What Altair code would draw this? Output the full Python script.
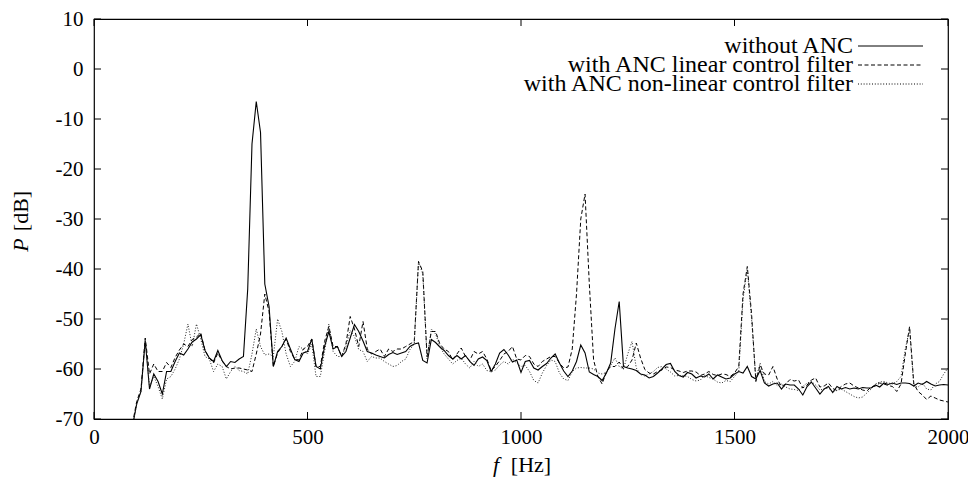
import altair as alt
import pandas as pd

# frequency grid [Hz]
FREQ = list(range(80, 2001, 10))

# without ANC (solid)
P_NO_ANC = [
    -76, -71.5,
    -67, -64.5, -54.3, -64, -61, -62.5, -65, -60.5, -60.5, -58.5,
    -56.8, -57.2, -56, -54.6, -54, -53.1, -56.3, -57.8, -58.5, -56.3,
    -58.3, -59.5, -58.5, -58.7, -58, -57.5, -44, -15, -6.5, -12.7,
    -43, -47.5, -59.5, -56.5, -55.5, -53.8, -56, -58.1, -58.5, -56.8,
    -56.5, -54, -59.5, -60, -55.5, -52.5, -56, -55.5, -57.5, -56.5,
    -53.8, -51.1, -52.5, -54.4, -56.5, -56.8, -57.2, -57.5, -57.8, -57.1,
    -56.7, -57.1, -56.8, -56.5, -55.5, -55, -54.8, -58.3, -58.8, -54.1,
    -54.7, -55.6, -56.3, -57.3, -58, -57.3, -58, -57.3, -58.5, -59.3,
    -58, -57.6, -58.3, -60.5, -59, -56.8, -56.1, -57.2, -58.6, -58.2,
    -60.7, -58.5, -58.3, -59.8, -60.2, -59.5, -58.9, -57.8, -57, -58.8,
    -60.4, -61.5, -60.4, -58.5, -55.2, -56.8, -60.6, -61.1, -61.5, -62.3,
    -60.8, -58.8, -52, -46.5, -59.5, -59.8, -60, -60.3, -61, -61.2,
    -61.8, -61.5, -60.8, -60, -59.1, -58.9, -60.5, -61.3, -61.6, -60.7,
    -61, -61.8, -61.4, -61.6, -61, -62, -61.2, -61.6, -62, -61.8,
    -61, -60.5, -60.8, -59.5, -61.5, -62, -60.3, -62.8, -63.4, -63,
    -62.8, -64, -63, -63.2, -63.2, -64, -65.2, -63.5, -62.6, -63.8,
    -65, -64, -63.5, -64.7, -63.5, -64, -63.7, -64, -63.8, -64,
    -63.7, -63.8, -63.8, -63.2, -63.6, -62.8, -63.1, -62.8, -63.1, -62.8,
    -62.8, -62.9, -63.4, -62.8, -63.1, -62.5, -63, -63.4, -63.2, -63.1,
    -63.2,
]

# with ANC, linear control filter (dashed)
P_LINEAR = [
    -76, -71,
    -66.5, -64, -53.8, -61, -59, -60.5, -60.5, -58.7, -59.7, -57.7,
    -56.2, -55, -55.5, -54.1, -53.6, -52.8, -56.3, -57.8, -58.8, -56.8,
    -58.4, -59.5, -60, -59.8, -59.8, -60, -60.2, -60.5, -57, -53,
    -45, -48.5, -59.5, -56.8, -55.5, -54, -56.5, -58, -58.2, -56,
    -55.5, -54, -59.5, -59.5, -54.5, -51.5, -55.5, -55.5, -57.5, -55,
    -49.5, -52, -55.5, -50.5, -56, -57, -56.5, -56, -57.5, -56,
    -56.5, -56, -56, -55.5, -55, -54.5, -38.5, -40.5, -57.5, -52.5,
    -52.5, -55, -56, -56.5, -58.2, -57, -55.8, -57.5, -58.3, -56.5,
    -57, -56.5, -58, -60.3, -59.5, -58.3, -57, -56.5, -55.5, -58,
    -58.2, -57.3, -57.5, -59, -59.5, -58.5, -58, -57.5, -57.5, -58.8,
    -59.8, -59.6, -56, -45, -30, -25, -43, -58.2, -61.5, -63,
    -60.5, -59.5, -59.5, -58.6, -60, -59.5, -58.2, -54.8, -57.8, -60.1,
    -60.8, -61, -60.5, -60.2, -59.6, -59.7, -60.2, -60.4, -60.7, -60.4,
    -60.4, -60.6, -61.3, -61, -60.5, -61.1, -61.3, -61, -61.1, -61.5,
    -60.8, -59.5, -45, -39.5, -49, -62.5, -59.2, -61, -61.2, -59.5,
    -62, -63.5, -63, -62.1, -62.4, -62.2, -63.8, -63.2, -62.2, -61.8,
    -63.6, -63.4, -62.8, -63.9, -64.3, -63.5, -63, -62.8, -63.4, -63.8,
    -64.2, -64.4, -63.6, -63.4, -62.8, -63, -63.3, -63.5, -64.5, -63,
    -57, -51.5, -63, -64.5, -65.2, -66.1, -65.4, -65.8, -66.2, -66.4,
    -66.6,
]

# with ANC, non-linear control filter (dotted)
P_NONLINEAR = [
    -76, -71.5,
    -67, -64.5, -54, -63.5, -61.5, -63.5, -66, -62, -61.5, -60,
    -58, -55, -51, -55.5, -51, -54, -57.5, -58, -60.5, -59,
    -59.5, -62, -60.5, -59.5, -60.3, -60.5, -61, -57, -52, -55.5,
    -57.2, -57, -57.5, -50, -52.5, -57, -59.5, -58.5, -55.5, -56,
    -57, -55, -61.5, -61.5, -56.5, -51, -56.5, -57.5, -57.5, -55.5,
    -52.3, -53.5, -56.1, -56.5, -58.5, -57.5, -57.8, -57.8, -58.5, -59,
    -59.5, -59.3, -58.5, -58, -56.1, -55, -38.5, -41, -58, -52,
    -53, -55.5, -57, -58, -59, -58.3, -57.8, -59, -59.8, -58.5,
    -59.5, -59, -60.3, -60.5, -60.2, -59.2, -58.5, -59, -58, -58.8,
    -59.5, -59.3, -60.5, -62.3, -62.8, -60.8, -59.3, -58.2, -58.5, -60.8,
    -62, -62.3, -60.5, -59.8, -59.7, -59.8, -59.8, -60, -60.8, -61,
    -60.7, -59.3, -57.8, -59.5, -60, -57, -54.5, -59.8, -61.1, -61.4,
    -61, -60.5, -59.7, -59.5, -60, -60.6, -61.4, -61.3, -61.3, -61.5,
    -62.1, -62.4, -62.2, -61.3, -61.7, -62, -62.6, -62.8, -62.3, -62.5,
    -61.5, -60.5, -46, -40, -50, -62, -58.8, -62.5, -63, -62.5,
    -63.3, -63, -63.6, -64, -64.1, -64.3, -63.5, -62.8, -62.5, -63.2,
    -64.2, -64, -63.8, -64.5, -64.3, -64, -64.5, -65, -65.5, -65.8,
    -65.6, -64.8, -64, -63, -62.6, -62.5, -62.8, -63, -62.5, -61.5,
    -56, -52, -63.5, -63.6, -62.8, -64, -64.2, -63, -62.5, -61,
    -59.8,
]

SERIES_LABELS = ["without ANC", "with ANC linear control filter",
                 "with ANC non-linear control filter"]
X_TICKS = [0, 500, 1000, 1500, 2000]
Y_TICKS = [-70, -60, -50, -40, -30, -20, -10, 0, 10]

W, H = 854, 400
FONT = "Liberation Serif"
FS = 21
FS_LEG = 24
FS_TITLE = 22

xs = alt.Scale(domain=[0, 2000], nice=False, zero=False)
ys = alt.Scale(domain=[-70, 10], nice=False, zero=False)

def series_df(vals):
    return pd.DataFrame({"f": FREQ, "P": vals})

X = alt.X("f:Q", scale=xs, axis=alt.Axis(
    values=X_TICKS, title=None, ticks=False, domain=False, grid=False,
    labelFont=FONT, labelFontSize=FS, labelColor="black", labelPadding=7,
    labelExpr="'' + datum.value", labelFlush=False))
Y = alt.Y("P:Q", scale=ys, axis=alt.Axis(
    values=Y_TICKS, title=None, ticks=False, domain=False, grid=False,
    labelFont=FONT, labelFontSize=FS, labelColor="black", labelPadding=11,
    labelExpr="'' + datum.value", labelFlush=False))

DASH = [4, 2.5]
DOT = [1, 1.8]

solid = alt.Chart(series_df(P_NO_ANC)).mark_line(
    clip=True, color="black", strokeWidth=1.1).encode(x=X, y=Y)
dashed = alt.Chart(series_df(P_LINEAR)).mark_line(
    clip=True, color="black", strokeWidth=1, strokeDash=DASH).encode(
    x=alt.X("f:Q", scale=xs), y=alt.Y("P:Q", scale=ys))
dotted = alt.Chart(series_df(P_NONLINEAR)).mark_line(
    clip=True, color="#222", strokeWidth=1, strokeDash=DOT).encode(
    x=alt.X("f:Q", scale=xs), y=alt.Y("P:Q", scale=ys))

# inward ticks on all four sides
xt = pd.DataFrame({"f": X_TICKS})
yt = pd.DataFrame({"P": Y_TICKS})
tb = alt.Chart(xt).mark_rule(color="black", strokeWidth=1).encode(
    x=alt.X("f:Q", scale=xs), y=alt.value(H), y2=alt.value(H - 7))
tt = alt.Chart(xt).mark_rule(color="black", strokeWidth=1).encode(
    x=alt.X("f:Q", scale=xs), y=alt.value(0), y2=alt.value(7))
tl = alt.Chart(yt).mark_rule(color="black", strokeWidth=1).encode(
    y=alt.Y("P:Q", scale=ys), x=alt.value(0), x2=alt.value(7))
tr = alt.Chart(yt).mark_rule(color="black", strokeWidth=1).encode(
    y=alt.Y("P:Q", scale=ys), x=alt.value(W), x2=alt.value(W - 7))

# legend (manual, gnuplot style)
LEG_RIGHT = 759
LEG_Y = [27, 46, 65]
DASHES = [None, DASH, DOT]
leg_layers = []
for lab, yy, dash in zip(SERIES_LABELS, LEG_Y, DASHES):
    leg_layers.append(alt.Chart(pd.DataFrame({"t": [lab]})).mark_text(
        align="right", baseline="middle", font=FONT, fontSize=FS_LEG,
        color="black").encode(text="t:N", x=alt.value(LEG_RIGHT),
                              y=alt.value(yy)))
    kw = dict(color="black", strokeWidth=1)
    if dash:
        kw["strokeDash"] = dash
    leg_layers.append(alt.Chart(pd.DataFrame({"t": [lab]})).mark_rule(**kw).encode(
        x=alt.value(LEG_RIGHT + 5), x2=alt.value(LEG_RIGHT + 70),
        y=alt.value(yy)))

# axis titles with italic symbol
titles = [
    alt.Chart(pd.DataFrame({"t": ["P"]})).mark_text(
        font=FONT, fontSize=FS_TITLE, fontStyle="italic", angle=270,
        align="center", baseline="middle", color="black").encode(
        text="t:N", x=alt.value(-73), y=alt.value(226)),
    alt.Chart(pd.DataFrame({"t": ["[dB]"]})).mark_text(
        font=FONT, fontSize=FS_TITLE, angle=270,
        align="center", baseline="middle", color="black").encode(
        text="t:N", x=alt.value(-73), y=alt.value(192)),
    alt.Chart(pd.DataFrame({"t": ["f"]})).mark_text(
        font=FONT, fontSize=FS_TITLE, fontStyle="italic",
        align="center", baseline="middle", color="black").encode(
        text="t:N", x=alt.value(402), y=alt.value(446)),
    alt.Chart(pd.DataFrame({"t": ["[Hz]"]})).mark_text(
        font=FONT, fontSize=FS_TITLE,
        align="center", baseline="middle", color="black").encode(
        text="t:N", x=alt.value(437), y=alt.value(446)),
]

chart = alt.layer(solid, dashed, dotted, tb, tt, tl, tr, *leg_layers, *titles).properties(
    width=W, height=H,
    autosize=alt.AutoSizeParams(type="none"),
    padding={"left": 86, "top": 11, "right": 20, "bottom": 62},
    background="white",
).configure_view(stroke="black", strokeWidth=1.2)

chart.save("out.html", embed_options={"renderer": "svg", "actions": False})
